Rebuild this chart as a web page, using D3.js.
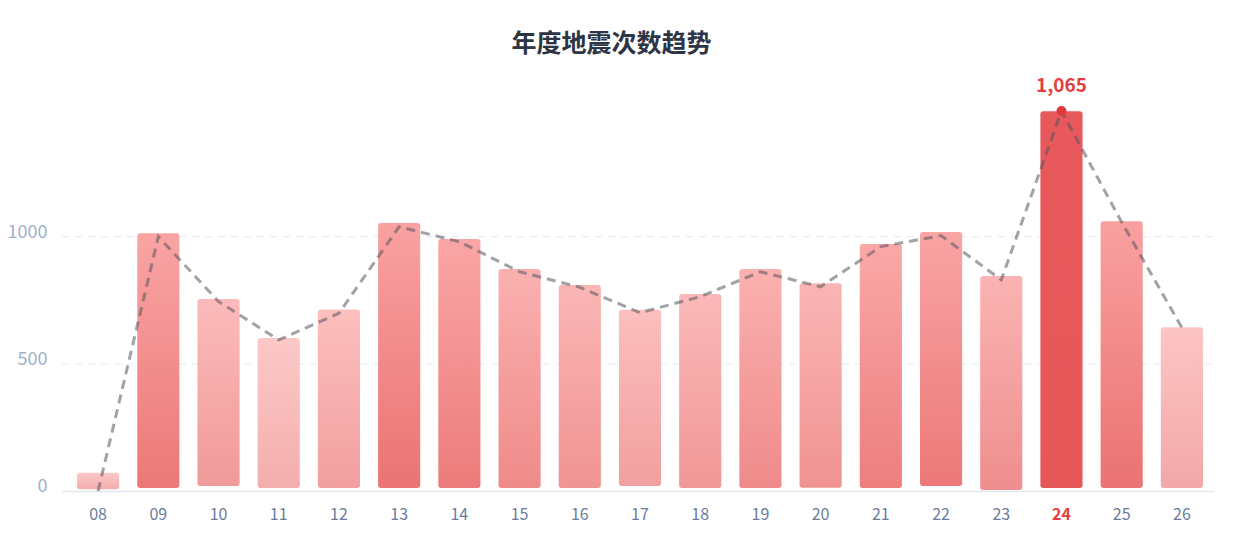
<!DOCTYPE html>
<html>
<head>
<meta charset="utf-8">
<script src="https://cdn.jsdelivr.net/npm/d3@7"></script>
<style>
  body { margin: 0; background: #fff; }
  text { font-family: "Noto Sans CJK SC", "Noto Sans", sans-serif; }
</style>
</head>
<body>
<div id="container"></div>
<script>
/* DATA */
var years = ["08","09","10","11","12","13","14","15","16","17","18","19","20","21","22","23","24","25","26"];
var barValues = [72, 1013, 755, 602, 714, 1054, 991, 873, 810, 713, 775, 873, 817, 971, 1018, 845, 1493, 1061, 644];
var barBase = [7, 12, 20, 12, 12, 12, 12, 12, 12, 20, 12, 12, 13, 12, 20, 4, 12, 12, 12];
var trendValues = [0, 1000, 745, 594, 699, 1039, 980, 862, 801, 701, 764, 862, 803, 961, 1004, 830, 1494, 1057, 642];
var yTicks = [0, 500, 1000];
var peakYear = "24";
var peakLabel = "1,065";
var title = "年度地震次数趋势";

/* CONSTANTS */
var width = 1241, height = 556;

var svg = d3.select("#container")
  .append("svg")
   .attr("width", width)
   .attr("height", height);

/* SCALES */
var xScale = d3.scaleBand()
  .domain(years)
  .range([68, 1212])
  .paddingInner(0.3)
  .paddingOuter(0.15);

var yScale = d3.scaleLinear()
  .domain([0, 1500])
  .range([491, 109.5]);

// lighter top / darker bottom, deeper for bigger counts
var tScale = d3.scaleLinear().domain([600, 1060]).range([0, 1]).clamp(true);
var topColor = d3.interpolateRgb("#fdc5c5", "#f99b9b");
var bottomColor = d3.interpolateRgb("#f3a9a9", "#ea6b6b");

var defs = svg.append("defs");
years.forEach((y, i) => {
  var t = tScale(barValues[i]);
  var g = defs.append("linearGradient")
    .attr("id", "grad" + i)
    .attr("x1", 0).attr("y1", 0).attr("x2", 0).attr("y2", 1);
  var c1 = y === peakYear ? "#e65053" : topColor(t);
  var c2 = y === peakYear ? "#e44e50" : bottomColor(t);
  g.append("stop").attr("offset", "0%").attr("stop-color", c1);
  g.append("stop").attr("offset", "100%").attr("stop-color", c2);
});

/* TITLE */
svg.append("text")
  .attr("x", 611.5)
  .attr("y", 52)
  .attr("text-anchor", "middle")
  .attr("font-size", 25)
  .attr("font-weight", 700)
  .attr("fill", "#2d3545")
  .text(title);

/* GRID + AXES */
svg.selectAll("line.grid")
  .data(yTicks.filter(d => d > 0))
  .join("line")
  .attr("class", "grid")
  .attr("x1", 62).attr("x2", 1214)
  .attr("y1", d => yScale(d)).attr("y2", d => yScale(d))
  .attr("stroke", "#e6e9f1")
  .attr("stroke-width", 1)
  .attr("stroke-dasharray", "7,6");

svg.append("line")
  .attr("x1", 62).attr("x2", 1214)
  .attr("y1", yScale(0) + 0.5).attr("y2", yScale(0) + 0.5)
  .attr("stroke", "#e3e7f0")
  .attr("stroke-width", 1.5);

svg.selectAll("text.ytick")
  .data(yTicks)
  .join("text")
  .attr("class", "ytick")
  .attr("x", 47.5)
  .attr("y", d => yScale(d) + 1)
  .attr("text-anchor", "end")
  .attr("font-size", 18)
  .attr("fill", "#a0afc8")
  .text(d => d);

svg.selectAll("text.xtick")
  .data(years)
  .join("text")
  .attr("class", "xtick")
  .attr("x", d => xScale(d) + xScale.bandwidth() / 2)
  .attr("y", 520)
  .attr("text-anchor", "middle")
  .attr("font-size", 16)
  .attr("font-weight", d => d === peakYear ? 700 : 400)
  .attr("fill", d => d === peakYear ? "#e53e3e" : "#6b7b9c")
  .text(d => d);

/* BARS */
svg.selectAll("rect.bar")
  .data(years)
  .join("rect")
  .attr("class", "bar")
  .attr("x", d => xScale(d))
  .attr("y", (d, i) => yScale(barValues[i]))
  .attr("width", xScale.bandwidth())
  .attr("height", (d, i) => yScale(barBase[i]) - yScale(barValues[i]))
  .attr("rx", 3)
  .attr("fill", (d, i) => "url(#grad" + i + ")")
  .attr("fill-opacity", 0.95);

/* TREND LINE */
var line = d3.line()
  .x((d, i) => xScale(years[i]) + xScale.bandwidth() / 2)
  .y(d => yScale(d));

svg.append("path")
  .datum(trendValues)
  .attr("d", line)
  .attr("fill", "none")
  .attr("stroke", "#55555f")
  .attr("stroke-opacity", 0.55)
  .attr("stroke-width", 3)
  .attr("stroke-dasharray", "9,6");

/* PEAK */
var pi = years.indexOf(peakYear);
svg.append("circle")
  .attr("cx", xScale(peakYear) + xScale.bandwidth() / 2)
  .attr("cy", yScale(trendValues[pi]))
  .attr("r", 5)
  .attr("fill", "#e0393d");

svg.append("text")
  .attr("x", xScale(peakYear) + xScale.bandwidth() / 2)
  .attr("y", 92)
  .attr("text-anchor", "middle")
  .attr("font-size", 19)
  .attr("font-weight", 700)
  .attr("fill", "#e53e3e")
  .text(peakLabel);
</script>
</body>
</html>
